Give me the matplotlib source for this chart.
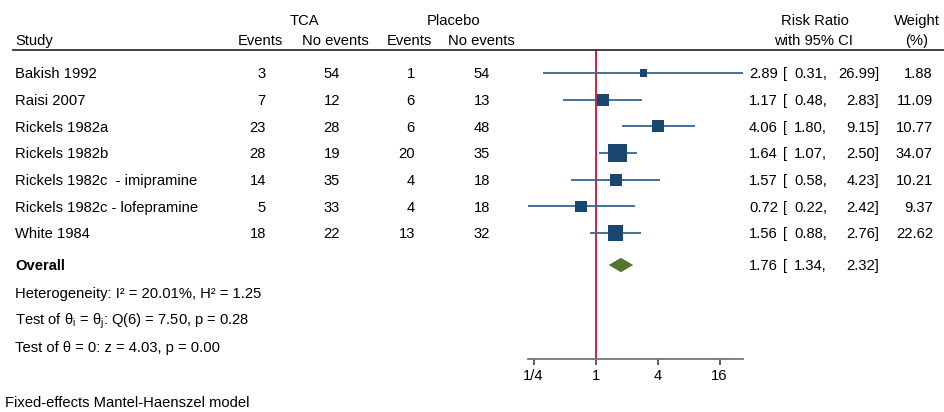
import numpy as np
import matplotlib
matplotlib.use("Agg")
import matplotlib.pyplot as plt
from matplotlib.transforms import blended_transform_factory
from matplotlib.patches import Polygon
from matplotlib.lines import Line2D

# ---- data -------------------------------------------------------------
studies = ["Bakish 1992", "Raisi 2007", "Rickels 1982a", "Rickels 1982b",
           "Rickels 1982c  - imipramine", "Rickels 1982c - lofepramine",
           "White 1984"]
tca_events = [3, 7, 23, 28, 14, 5, 18]
tca_no_events = [54, 12, 28, 19, 35, 33, 22]
placebo_events = [1, 6, 6, 20, 4, 4, 13]
placebo_no_events = [54, 13, 48, 35, 18, 18, 32]
risk_ratio = [2.89, 1.17, 4.06, 1.64, 1.57, 0.72, 1.56]
ci_low = [0.31, 0.48, 1.80, 1.07, 0.58, 0.22, 0.88]
ci_high = [26.99, 2.83, 9.15, 2.50, 4.23, 2.42, 2.76]
weight = [1.88, 11.09, 10.77, 34.07, 10.21, 9.37, 22.62]
overall_rr, overall_low, overall_high = 1.76, 1.34, 2.32
x_ticks = [0.25, 1, 4, 16]
x_tick_labels = ["1/4", "1", "4", "16"]
stats_lines = [
    "Heterogeneity: I\u00b2 = 20.01%, H\u00b2 = 1.25",
    r"Test of θ$_\mathregular{i}$ = θ$_\mathregular{j}$: Q(6) = 7.50, p = 0.28",
    "Test of θ = 0: z = 4.03, p = 0.00",
]
footnote = "Fixed-effects Mantel-Haenszel model"

# ---- style ------------------------------------------------------------
plt.rcParams["font.family"] = ["Liberation Sans", "DejaVu Sans"]
plt.rcParams["mathtext.fontset"] = "custom"
plt.rcParams["mathtext.rm"] = "Liberation Sans"
plt.rcParams["mathtext.it"] = "Liberation Sans"
FS = 10.6
NAVY = "#1a476f"
CI_COL = "#3a6489"
GREEN = "#55752f"
RED = "#c0103a"
GREY = "#777777"

W, H = 945, 412
fig = plt.figure(figsize=(W / 100, H / 100), dpi=100)

# forest panel: log2 axis, rows in index units
row_px0, row_step = 73.0, 26.67
x_min, x_max = min(ci_low), max(ci_high)
px_per_log2 = 31.0
one_px = 595.6
left_px = one_px + np.log2(x_min) * px_per_log2
right_px = one_px + np.log2(x_max) * px_per_log2
top_px, bottom_px = 50.0, 359.0
ax = fig.add_axes([left_px / W, 1 - bottom_px / H,
                   (right_px - left_px) / W, (bottom_px - top_px) / H])
ax.set_xscale("log", base=2)
ax.set_xlim(x_min, x_max)
y_top = (top_px - row_px0) / row_step
y_bot = (bottom_px - row_px0) / row_step
ax.set_ylim(y_bot, y_top)
for s in ("top", "left", "right"):
    ax.spines[s].set_visible(False)
ax.spines["bottom"].set_color(GREY)
ax.spines["bottom"].set_linewidth(1.3)
ax.set_yticks([])
ax.set_xticks(x_ticks)
ax.set_xticklabels(x_tick_labels)
ax.minorticks_off()
ax.tick_params(axis="x", length=4.5, width=1.1, color="#333333",
               labelsize=FS, pad=2.5)

rows = np.arange(len(studies))
overall_row = 7.2

ax.axvline(1, color=RED, lw=1.3, zorder=1)
ax.hlines(rows, ci_low, ci_high, color=CI_COL, lw=1.3, zorder=2)
side_px = 3.5 + 2.57 * np.sqrt(np.array(weight))
side_pt = side_px * 0.72
ax.scatter(risk_ratio, rows, marker="s", s=side_pt ** 2, color=NAVY,
           linewidths=0, zorder=3)
diamond_half = 0.27
ax.add_patch(Polygon([[overall_low, overall_row],
                      [overall_rr, overall_row - diamond_half],
                      [overall_high, overall_row],
                      [overall_rr, overall_row + diamond_half]],
                     closed=True, color=GREEN, lw=0, zorder=3))

# ---- table text ---------------------------------------------------------
tr = blended_transform_factory(fig.transFigure, ax.transData)
text_shift = 0.05  # centre capitals (not the full line box) on the row


def put(xpx, y, s, ha="left", **kw):
    ax.text(xpx / W, y + text_shift, s, transform=tr, ha=ha, va="center",
            fontsize=FS, clip_on=False, **kw)


def yrow(py):
    return (py - row_px0) / row_step


# headers
put(304, yrow(20), "TCA", ha="center")
put(454, yrow(20), "Placebo", ha="center")
put(814.5, yrow(20), "Risk Ratio", ha="center")
put(916.5, yrow(20), "Weight", ha="center")
put(15, yrow(40), "Study")
put(260.5, yrow(40), "Events", ha="center")
put(335, yrow(40), "No events", ha="center")
put(409, yrow(40), "Events", ha="center")
put(481.5, yrow(40), "No events", ha="center")
put(813.5, yrow(40), "with 95% CI", ha="center")
put(917, yrow(40), "(%)", ha="center")
fig.add_artist(Line2D([13 / W, 1.0], [1 - 49.5 / H, 1 - 49.5 / H],
                      color="#333333", lw=1.3))

for i, name in enumerate(studies):
    put(15, i, name)
    put(266, i, str(tca_events[i]), ha="right")
    put(340, i, str(tca_no_events[i]), ha="right")
    put(415, i, str(placebo_events[i]), ha="right")
    put(490, i, str(placebo_no_events[i]), ha="right")
    put(778, i, f"{risk_ratio[i]:.2f}", ha="right")
    put(783, i, "[")
    put(827, i, f"{ci_low[i]:.2f},", ha="right")
    put(879, i, f"{ci_high[i]:.2f}]", ha="right")
    put(933, i, f"{weight[i]:.2f}", ha="right")

put(15, overall_row, "Overall", fontweight="bold")
put(778, overall_row, f"{overall_rr:.2f}", ha="right")
put(783, overall_row, "[")
put(827, overall_row, f"{overall_low:.2f},", ha="right")
put(879, overall_row, f"{overall_high:.2f}]", ha="right")

for k, line in enumerate(stats_lines):
    put(15, yrow(293 + 27 * k), line)

put(5, yrow(402), footnote)

fig.savefig("out.png", dpi=100, facecolor="white")
